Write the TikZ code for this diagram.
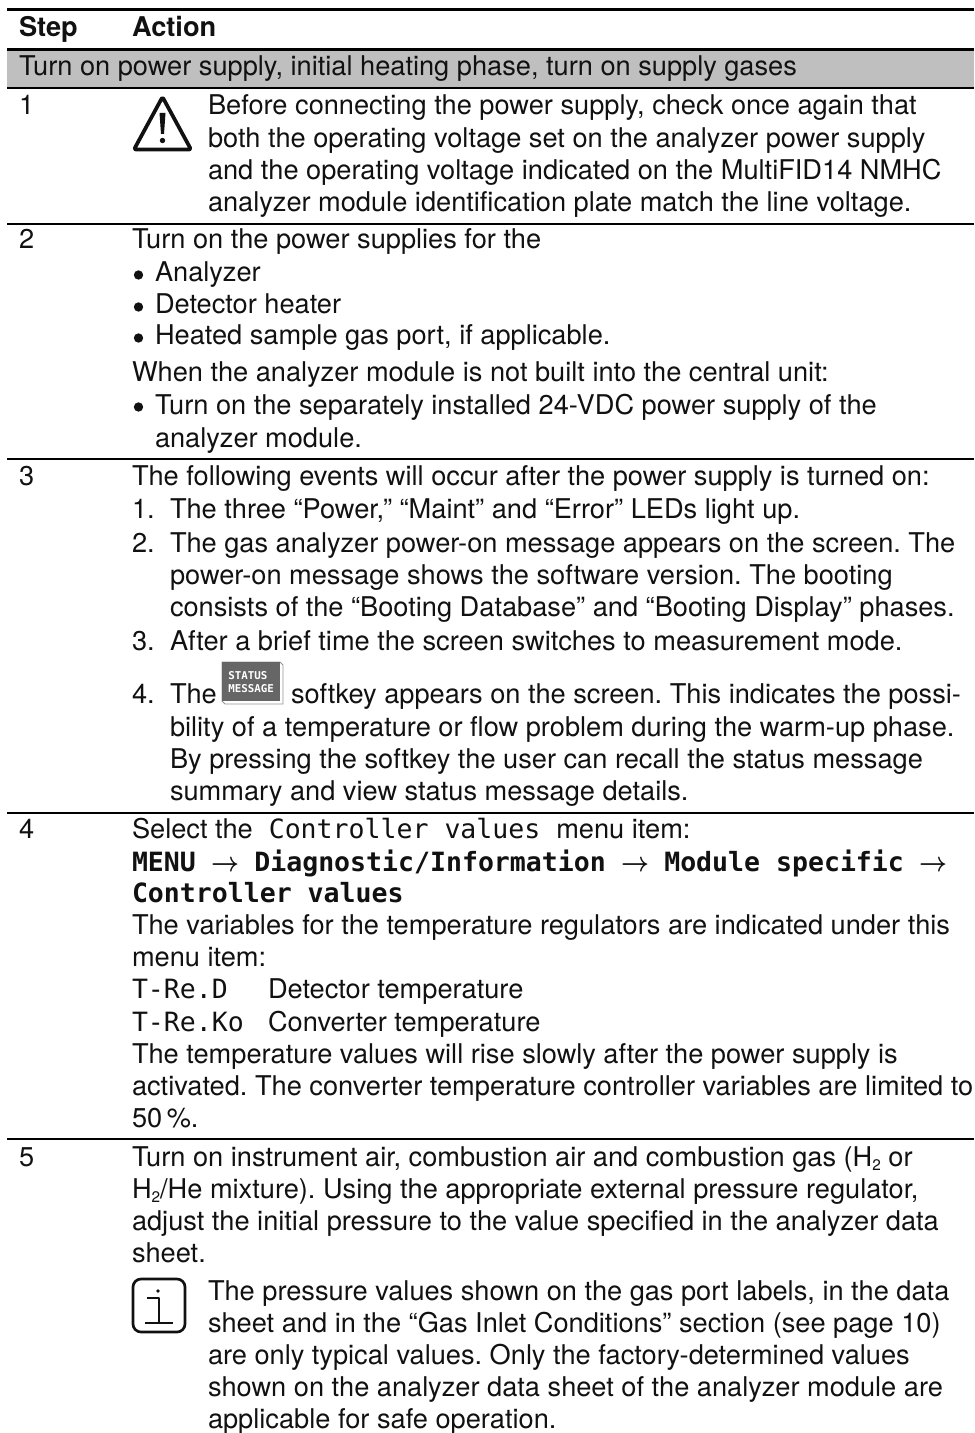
\documentclass[tikz,border=0pt]{standalone}
\usepackage{fontspec}
\setmainfont{TeX Gyre Heros}
\setmonofont{DejaVu Sans Mono}
\definecolor{bandgray}{HTML}{BFBFBF}
\definecolor{keygray}{HTML}{666666}
\definecolor{inkblack}{HTML}{111111}
\tikzstyle{line}=[anchor=base west,inner sep=0pt,outer sep=0pt,text=inkblack,font=\frenchspacing\fontsize{20.4}{24}\selectfont]
\tikzstyle{headline}=[line,font=\fontsize{20.4}{24}\selectfont\bfseries]
\tikzstyle{bulletmark}=[circle,fill=inkblack,minimum size=7pt,inner sep=0pt]
\tikzstyle{rule}=[draw,line width=1.5pt,black]
\tikzstyle{icon}=[draw=inkblack,line width=2pt,line cap=round,line join=round]
\tikzstyle{softkey}=[anchor=north west,fill=keygray,text=white,inner sep=0pt,text width=43.5pt,minimum height=29.25pt,align=left,font=\fontsize{8.1}{10.5}\selectfont\ttfamily\bfseries]
\newcommand{\pxscale}{0.75pt}
\newcommand{\mono}[1]{{\fontsize{19.9}{24}\selectfont\ttfamily #1}}
\newcommand{\monob}[1]{{\fontsize{19.9}{24}\selectfont\ttfamily\bfseries\boldmath #1}}
\newcommand{\menuarrow}{\makebox[1em][c]{\scalebox{0.88}[1]{$\rightarrow$}}}
\newcommand{\subtwo}{\raisebox{-0.17em}{\fontsize{11.5}{11.5}\selectfont 2}}

\begin{document}
\begin{tikzpicture}[x=\pxscale,y=-\pxscale]
    \useasboundingbox (0,0) rectangle (974,1433);
    % Band and rules
    \fill[bandgray] (7,50) rectangle (974,88);
    \foreach \y/\w in {10/2.25pt,50/2.25pt,88/1.5pt,224/1.5pt,459/1.5pt,813/1.5pt,1139/1.5pt}
        \path[rule,line width=\w] (7,\y) -- (974,\y);
    % Head of the table
    \node[headline] (step) at (19,37) {Step};
    \node[headline] (action) at (132,37) {Action};
    \node[line] (band) at (19,76) {Turn on power supply, initial heating phase, turn on supply gases};
    % Step numbers
    \foreach \y/\name in {115/1,249/2,485/3,838/4,1166/5}
        \node[line] (num\name) at (19,\y) {\name};
    % Warning sign
    \draw[icon,line width=2.8pt,rounded corners=1.5pt] (162.5,97) -- (191,149.5) -- (134,149.5) -- cycle;
    \fill[inkblack] (159.5,113) -- (165.5,113) -- (164,134) -- (161,134) -- cycle;
    \fill[inkblack] (162.5,140.5) circle (2.7);
    % Lines beside the warning and the info sign
    \foreach \y/\name/\txt in {
        115/warna/{Before connecting the power supply, check once again that},
        148/warnb/{both the operating voltage set on the analyzer power supply},
        180/warnc/{and the operating voltage indicated on the MultiFID14 NMHC},
        212/warnd/{analyzer module identification plate match the line voltage.},
        1300/infoa/{The pressure values shown on the gas port labels, in the data},
        1332/infob/{sheet and in the “Gas Inlet Conditions” section (see page 10)},
        1364/infoc/{are only typical values. Only the factory-determined values},
        1396/infod/{shown on the analyzer data sheet of the analyzer module are},
        1428/infoe/{applicable for safe operation.}}
        \node[line] (\name) at (208,\y) {\txt};
    % Lines of the action column
    \foreach \y/\name/\txt in {
        249/powera/{Turn on the power supplies for the},
        382/powerb/{When the analyzer module is not built into the central unit:},
        485/eventa/{The following events will occur after the power supply is turned on:},
        838/selecta/{Select the\mono{\ Controller values\ }menu item:},
        871/selectb/{\monob{MENU \menuarrow{} Diagnostic/Information \menuarrow{} Module specific \menuarrow}},
        902/selectc/{\monob{Controller values}},
        934/selectd/{The variables for the temperature regulators are indicated under this},
        966/selecte/{menu item:},
        998/selectf/{\mono{T-Re.D}},
        1031/selectg/{\mono{T-Re.Ko}},
        1063/selecth/{The temperature values will rise slowly after the power supply is},
        1095/selecti/{activated. The converter temperature controller variables are limited to},
        1127/selectj/{50\,\%.},
        1166/gasa/{Turn on instrument air, combustion air and combustion gas (H\subtwo{} or},
        1198/gasb/{H\subtwo/He mixture). Using the appropriate external pressure regulator,},
        1230/gasc/{adjust the initial pressure to the value specified in the analyzer data},
        1262/gasd/{sheet.}}
        \node[line] (\name) at (132,\y) {\txt};
    \node[line] (tempd) at (268,998) {Detector temperature};
    \node[line] (tempk) at (268,1031) {Converter temperature};
    % Bullets
    \foreach \y/\name/\txt in {
        282/bula/{Analyzer},
        314/bulb/{Detector heater},
        345/bulc/{Heated sample gas port, if applicable.},
        414/buld/{Turn on the separately installed 24-VDC power supply of the}}
    {
        \node[bulletmark] (dot\name) at (138.5,\y-7) {};
        \node[line] (\name) at (155,\y) {\txt};
    }
    \node[line] (bule) at (155,447) {analyzer module.};
    % Numbered list
    \foreach \y/\name/\txt in {
        518/1/{The three “Power,” “Maint” and “Error” LEDs light up.},
        552/2/{The gas analyzer power-on message appears on the screen. The},
        650/3/{After a brief time the screen switches to measurement mode.}}
    {
        \node[line] (item\name) at (132,\y) {\name.};
        \node[line] (event\name) at (170,\y) {\txt};
    }
    \node[line] (item4) at (132,703) {4.};
    \node[line] (event4) at (170,703) {The};
    \foreach \y/\name/\txt in {
        584/eventb/{power-on message shows the software version. The booting},
        616/eventc/{consists of the “Booting Database” and “Booting Display” phases.},
        736/eventd/{bility of a temperature or flow problem during the warm-up phase.},
        768/evente/{By pressing the softkey the user can recall the status message},
        800/eventf/{summary and view status message details.}}
        \node[line] (\name) at (170,\y) {\txt};
    % Softkey
    \draw[keygray!70,line width=0.6pt,fill=white] (222,662) -- (280,662) -- (283,665) -- (283,704) -- (225,704) -- (222,701) -- cycle;
    \node[softkey] (key) at (222,662) {\hspace{4.5pt}STATUS\\[-0.5pt]\hspace{4.5pt}MESSAGE};
    \node[line] (eventk) at (291,703) {softkey appears on the screen. This indicates the possi-};
    % Info sign
    \draw[icon] (133,1279) [rounded corners=6pt] rectangle (185,1332);
    \fill[inkblack] (158,1291) circle (1.9);
    \draw[icon,line width=1.9pt,line cap=butt] (147,1298) -- (159,1298) -- (159,1323);
    \draw[icon,line width=1.9pt,line cap=butt] (145,1323) -- (173,1323);
\end{tikzpicture}
\end{document}
